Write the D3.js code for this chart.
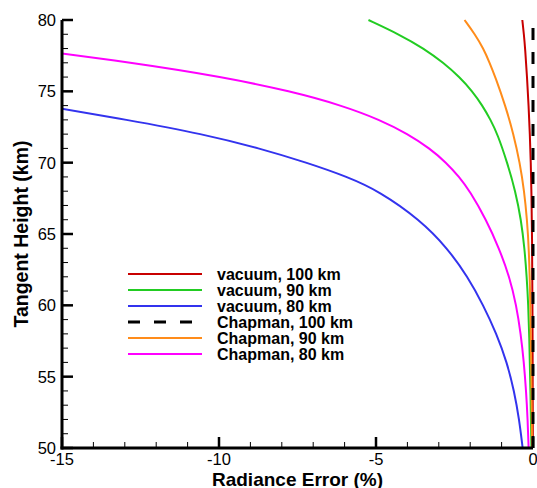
<!DOCTYPE html>
<html>
<head>
<meta charset="utf-8">
<script src="https://cdn.jsdelivr.net/npm/d3@7"></script>
<style>
  html, body { margin: 0; padding: 0; background: #fff; }
  svg { display: block; font-family: "Liberation Sans", Arial, sans-serif; }
</style>
</head>
<body>
<svg id="chart" width="537" height="488"></svg>
<script>
// ---- data (x = radiance error %, y = tangent height km) ----
const xTicks = [-15, -10, -5, 0];
const yTicks = [50, 55, 60, 65, 70, 75, 80];

const vac100H = [50, 60, 65, 68, 70, 72, 74, 76, 78, 79, 80];
const vac100E = [-0.005, -0.015, -0.03, -0.05, -0.07, -0.1, -0.14, -0.19, -0.25, -0.29, -0.34];

const vac90H = [50, 54, 58, 60, 62, 64, 66, 68, 70, 72, 73, 74, 75, 76, 77, 78, 79, 80];
const vac90E = [-0.05, -0.08, -0.12, -0.15, -0.2, -0.27, -0.38, -0.56, -0.82, -1.13, -1.35, -1.61, -1.93, -2.34, -2.85, -3.47, -4.27, -5.24];

const vac80H = [50, 52, 54, 56, 58, 60, 62, 64, 66, 68, 69, 70, 71, 72, 73, 74];
const vac80E = [-0.33, -0.44, -0.6, -0.83, -1.16, -1.58, -2.08, -2.72, -3.6, -4.9, -5.9, -7.2, -8.7, -10.5, -12.9, -15.6];

const chap100H = [50, 80];
const chap100E = [0, 0];

const chap90H = [50, 55, 60, 64, 66, 68, 70, 72, 74, 76, 77, 78, 79, 80];
const chap90E = [-0.03, -0.05, -0.08, -0.13, -0.19, -0.28, -0.42, -0.62, -0.88, -1.2, -1.38, -1.58, -1.85, -2.18];

const chap80H = [50, 52, 54, 56, 58, 60, 62, 64, 66, 68, 69, 70, 71, 72, 73, 74, 75, 76, 77, 78];
const chap80E = [-0.14, -0.17, -0.22, -0.29, -0.39, -0.53, -0.75, -1.08, -1.49, -2.01, -2.35, -2.76, -3.29, -3.98, -4.87, -6.07, -7.7, -9.87, -12.72, -16.22];

const seriesNames = ["vacuum, 100 km", "vacuum, 90 km", "vacuum, 80 km", "Chapman, 100 km", "Chapman, 90 km", "Chapman, 80 km"];
const seriesColors = ["#c80000", "#22cc22", "#3333ee", "#000000", "#ff8c1a", "#ff00ff"];
const seriesH = [vac100H, vac90H, vac80H, chap100H, chap90H, chap80H];
const seriesE = [vac100E, vac90E, vac80E, chap100E, chap90E, chap80E];

// ---- layout ----
const W = 537, H = 488;
const m = { left: 62, right: 4, top: 20, bottom: 40 };
const svg = d3.select("#chart");
const x = d3.scaleLinear().domain([-15, 0]).range([m.left, W - m.right]);
const y = d3.scaleLinear().domain([50, 80]).range([H - m.bottom, m.top]);

svg.append("defs").append("clipPath").attr("id", "clip")
  .append("rect").attr("x", m.left).attr("y", m.top - 2)
  .attr("width", W - m.left).attr("height", H - m.bottom - m.top + 4);

const gLines = svg.append("g").attr("clip-path", "url(#clip)");
const line = d3.line().x(d => x(d[0])).y(d => y(d[1])).curve(d3.curveBasis);

const order = [0, 1, 2, 4, 5, 3];
order.forEach(i => {
  const pts = seriesH[i].map((h, k) => [seriesE[i][k], h]);
  const p = gLines.append("path").datum(pts)
    .attr("d", line).attr("fill", "none")
    .attr("stroke", seriesColors[i])
    .attr("stroke-width", i === 3 ? 3 : 2);
  if (i === 3) p.attr("stroke-dasharray", "12,12");
});

// ---- axes ----
const xMinor = d3.range(-15, 0.001, 1);
const yMinor = d3.range(50, 80.001, 1);

const gx = svg.append("g");
gx.selectAll("line.minor").data(xMinor).join("line")
  .attr("x1", d => x(d)).attr("x2", d => x(d))
  .attr("y1", y(50)).attr("y2", y(50) - 6)
  .attr("stroke", "#000").attr("stroke-width", 1);
gx.selectAll("line.major").data(xTicks).join("line")
  .attr("x1", d => x(d)).attr("x2", d => x(d))
  .attr("y1", y(50)).attr("y2", y(50) - 11)
  .attr("stroke", "#000").attr("stroke-width", 2.5);
gx.selectAll("text").data(xTicks).join("text")
  .attr("x", d => x(d)).attr("y", 465)
  .attr("text-anchor", "middle").attr("font-size", 16.5)
  .text(d => String(d));

const gy = svg.append("g");
gy.selectAll("line.minor").data(yMinor).join("line")
  .attr("x1", x(-15)).attr("x2", x(-15) + 6)
  .attr("y1", d => y(d)).attr("y2", d => y(d))
  .attr("stroke", "#000").attr("stroke-width", 1);
gy.selectAll("line.major").data(yTicks).join("line")
  .attr("x1", x(-15)).attr("x2", x(-15) + 11)
  .attr("y1", d => y(d)).attr("y2", d => y(d))
  .attr("stroke", "#000").attr("stroke-width", 2.5);
gy.selectAll("text").data(yTicks).join("text")
  .attr("x", 56).attr("y", d => y(d)).attr("dy", "0.36em")
  .attr("text-anchor", "end").attr("font-size", 16.5)
  .text(d => String(d));

// axis lines
svg.append("line").attr("x1", x(-15)).attr("x2", x(-15))
  .attr("y1", y(80)).attr("y2", y(50) + 1.5)
  .attr("stroke", "#000").attr("stroke-width", 3);
svg.append("line").attr("x1", x(-15) - 1.5).attr("x2", x(0))
  .attr("y1", y(50)).attr("y2", y(50))
  .attr("stroke", "#000").attr("stroke-width", 3);

// axis titles
svg.append("text").attr("x", (x(-15) + x(0)) / 2).attr("y", 485.5)
  .attr("text-anchor", "middle").attr("font-size", 19).attr("font-weight", "bold")
  .text("Radiance Error (%)");
svg.append("text")
  .attr("transform", `translate(28,${(y(50) + y(80)) / 2}) rotate(-90)`)
  .attr("text-anchor", "middle").attr("font-size", 19.5).attr("font-weight", "bold")
  .text("Tangent Height (km)");

// ---- legend ----
const lg = svg.append("g");
seriesNames.forEach((name, i) => {
  const yy = 274 + i * 16;
  const l = lg.append("line").attr("x1", 128).attr("x2", 202)
    .attr("y1", yy).attr("y2", yy)
    .attr("stroke", seriesColors[i]).attr("stroke-width", i === 3 ? 3 : 2);
  if (i === 3) l.attr("stroke-dasharray", "12,14");
  lg.append("text").attr("x", 217).attr("y", yy).attr("dy", "0.36em")
    .attr("font-size", 16).attr("font-weight", "bold").text(name);
});
</script>
</body>
</html>
